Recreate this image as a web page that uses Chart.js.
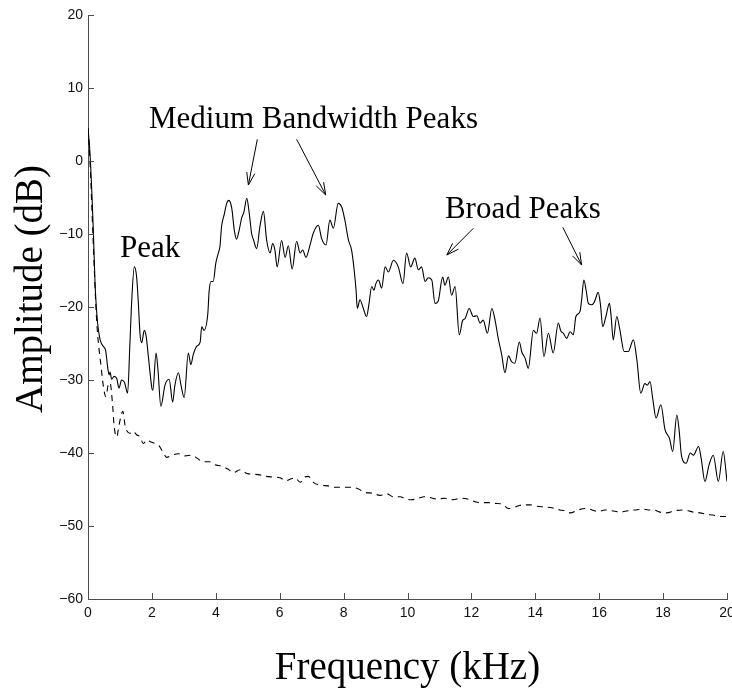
<!DOCTYPE html>
<html>
<head>
<meta charset="utf-8">
<script src="https://cdn.jsdelivr.net/npm/chart.js@4/dist/chart.umd.min.js"></script>
<style>
  html, body { margin: 0; padding: 0; background: #fff; }
  #wrap { width: 732px; height: 692px; }
</style>
</head>
<body>
<div id="wrap"><canvas id="spec" width="732" height="692"></canvas></div>
<script>
// Spectrum (solid) in kHz / dB
const freqSolid = [0.00,0.06,0.13,0.17,0.22,0.30,0.38,0.48,0.55,0.62,0.66,0.69,0.74,0.82,0.90,0.97,1.05,1.14,1.24,1.31,
  1.37,1.45,1.52,1.57,1.63,1.68,1.76,1.82,1.89,2.00,2.03,2.13,2.19,2.28,2.41,2.54,2.65,2.72,2.83,2.91,
  3.01,3.14,3.22,3.29,3.40,3.51,3.56,3.63,3.75,3.79,3.85,3.92,4.00,4.08,4.13,4.18,4.27,4.34,4.41,4.50,
  4.58,4.65,4.73,4.81,4.88,4.97,5.04,5.12,5.18,5.28,5.38,5.49,5.59,5.70,5.78,5.85,5.92,6.06,6.17,6.27,
  6.39,6.53,6.64,6.72,6.82,6.95,7.05,7.21,7.31,7.45,7.57,7.68,7.83,7.94,8.04,8.15,8.25,8.33,8.39,8.43,
  8.51,8.61,8.72,8.79,8.88,8.95,9.01,9.09,9.19,9.30,9.40,9.56,9.71,9.86,9.97,10.10,10.23,10.34,10.44,10.55,
  10.65,10.76,10.86,10.96,11.10,11.17,11.28,11.38,11.49,11.62,11.73,11.80,11.93,12.06,12.17,12.27,12.37,12.50,12.64,12.74,
  12.84,12.95,13.05,13.16,13.26,13.36,13.50,13.58,13.68,13.78,13.94,14.04,14.15,14.27,14.41,14.56,14.72,14.80,14.88,14.98,
  15.09,15.19,15.27,15.40,15.45,15.52,15.59,15.66,15.77,15.85,15.97,16.04,16.11,16.21,16.32,16.37,16.44,16.55,16.65,16.78,
  16.91,17.07,17.18,17.30,17.43,17.51,17.59,17.68,17.78,17.93,18.06,18.20,18.30,18.43,18.50,18.58,18.72,18.85,18.95,19.11,
  19.19,19.31,19.44,19.57,19.73,19.88,20.00];
const ampSolid = [4.5,1.2,-5.3,-9.9,-16.7,-22.2,-24.5,-25.4,-25.9,-28.4,-29.3,-28.9,-29.9,-29.5,-29.8,-31.1,-30.0,-30.3,-31.8,-25.2,
  -19.0,-14.5,-15.8,-19.0,-23.8,-24.9,-23.2,-24.0,-26.8,-31.1,-31.4,-26.3,-28.6,-33.6,-30.7,-29.9,-33.0,-30.7,-29.0,-30.7,
  -32.4,-26.3,-27.9,-26.6,-25.4,-24.8,-22.7,-23.2,-20.9,-17.9,-16.5,-16.5,-14.0,-12.6,-11.7,-9.0,-7.2,-5.8,-5.4,-6.5,
  -9.5,-10.7,-9.5,-7.8,-7.0,-5.1,-6.9,-9.9,-10.8,-12.0,-9.0,-6.9,-10.8,-12.6,-11.3,-12.2,-14.5,-10.9,-13.2,-11.6,
  -14.8,-11.0,-12.6,-12.2,-13.2,-11.5,-9.9,-8.8,-10.6,-11.5,-8.1,-9.2,-5.8,-6.3,-8.1,-10.8,-12.2,-14.9,-17.7,-20.2,
  -19.0,-20.1,-21.3,-19.7,-17.2,-17.7,-16.8,-16.3,-17.4,-14.5,-15.2,-13.6,-14.5,-16.8,-12.6,-14.5,-13.3,-14.9,-14.5,-16.5,
  -16.0,-16.3,-19.5,-19.2,-15.9,-17.0,-15.9,-18.4,-17.2,-23.8,-21.8,-21.6,-20.2,-21.3,-21.2,-22.2,-21.8,-23.6,-20.2,-21.8,
  -24.3,-26.6,-29.0,-26.7,-27.5,-27.7,-24.8,-26.2,-27.0,-28.4,-23.2,-23.6,-21.5,-26.8,-23.6,-26.3,-22.2,-23.3,-23.6,-24.3,
  -23.4,-23.8,-21.3,-20.6,-19.0,-16.3,-17.7,-19.5,-19.7,-19.3,-18.0,-19.7,-22.7,-21.3,-19.5,-21.1,-24.5,-21.3,-23.2,-26.1,
  -26.1,-24.5,-27.3,-31.8,-30.5,-30.7,-30.2,-32.7,-35.2,-33.4,-36.8,-38.0,-39.8,-34.8,-36.8,-40.5,-41.4,-40.0,-40.3,-39.1,
  -40.7,-43.9,-41.6,-40.3,-43.9,-39.8,-43.9];

// Noise floor (dashed)
const freqDashed = [0.00,0.06,0.16,0.27,0.41,0.50,0.56,0.63,0.69,0.77,0.82,0.90,0.97,1.09,1.16,1.22,1.31,1.41,1.52,1.63,
  1.73,1.85,1.97,2.10,2.22,2.35,2.46,2.63,2.83,3.04,3.25,3.41,3.61,3.79,3.97,4.19,4.38,4.55,4.76,4.97,
  5.16,5.38,5.57,5.80,6.01,6.20,6.32,6.48,6.64,6.79,6.90,7.04,7.26,7.51,7.73,8.00,8.25,8.45,8.67,8.89,
  9.14,9.36,9.56,9.77,9.95,10.13,10.33,10.52,10.70,10.92,11.17,11.43,11.67,11.96,12.14,12.37,12.58,12.74,12.96,13.16,
  13.36,13.62,13.83,14.05,14.30,14.52,14.77,14.93,15.09,15.34,15.61,15.77,15.97,16.18,16.39,16.65,16.91,17.12,17.38,17.53,
  17.69,17.90,18.11,18.37,18.63,18.78,18.95,19.15,19.36,19.56,19.78,19.97];
const ampDashed = [4.5,0.1,-10.8,-21.8,-28.2,-31.4,-32.3,-30.7,-30.4,-33.4,-36.4,-37.8,-36.2,-34.3,-36.2,-37.0,-37.3,-37.0,-37.5,-37.8,
  -38.7,-38.2,-38.5,-38.7,-39.0,-39.9,-40.6,-40.3,-40.1,-40.4,-40.3,-40.7,-41.2,-41.2,-41.6,-41.8,-42.2,-42.7,-42.3,-42.8,
  -42.9,-43.0,-43.2,-43.3,-43.4,-43.8,-43.6,-43.4,-44.0,-43.3,-43.2,-44.0,-44.4,-44.5,-44.7,-44.7,-44.7,-44.9,-45.4,-45.5,
  -45.8,-45.6,-46.0,-46.0,-46.3,-46.4,-46.2,-46.0,-46.1,-46.3,-46.2,-46.4,-46.2,-46.4,-46.7,-46.8,-46.8,-46.9,-47.0,-47.6,
  -47.4,-47.1,-47.1,-47.3,-47.4,-47.5,-47.8,-47.9,-48.2,-47.8,-47.6,-47.8,-48.0,-47.8,-47.9,-48.1,-47.9,-47.8,-47.7,-47.8,
  -47.8,-48.1,-48.2,-47.9,-47.8,-47.9,-48.1,-48.2,-48.4,-48.5,-48.7,-48.7];

// Text labels and arrows, in kHz / dB
const noteTexts = ['Medium Bandwidth Peaks', 'Peak', 'Broad Peaks'];
const noteAt = [[1.91, 4.52], [1.00, -13.1], [11.17, -7.8]];
const arrows = [
  [5.30, 2.97, 5.02, -3.29],
  [6.53, 2.97, 7.44, -4.66],
  [12.06, -9.22, 11.23, -12.88],
  [14.86, -9.08, 15.45, -14.25]
];

const axisColor = '#4d4d4d';
const serif = '"Liberation Serif", "Times New Roman", serif';
const toPoints = (xs, ys) => xs.map((x, i) => ({ x: x, y: ys[i] }));
const minus = v => String(v).replace('-', '\u2212');

// inward tick marks, y title, annotations
const extras = {
  id: 'extras',
  afterDraw(chart) {
    const { ctx, chartArea: area, scales: { x, y } } = chart;
    ctx.save();
    ctx.strokeStyle = axisColor;
    ctx.lineWidth = 1;
    ctx.beginPath();
    x.ticks.forEach(t => {
      const px = Math.round(x.getPixelForValue(t.value)) + 0.5;
      ctx.moveTo(px, area.bottom);
      ctx.lineTo(px, area.bottom - 6);
    });
    y.ticks.forEach(t => {
      const py = Math.round(y.getPixelForValue(t.value)) + 0.5;
      ctx.moveTo(area.left, py);
      ctx.lineTo(area.left + 6, py);
    });
    ctx.stroke();

    // y axis title sits a little above the middle
    ctx.fillStyle = '#000';
    ctx.font = '39px ' + serif;
    ctx.textAlign = 'center';
    ctx.textBaseline = 'middle';
    ctx.save();
    ctx.translate(32, (area.top + area.bottom) / 2 - 18);
    ctx.rotate(-Math.PI / 2);
    ctx.fillText('Amplitude (dB)', 0, 0);
    ctx.restore();

    ctx.font = '31px ' + serif;
    ctx.textAlign = 'left';
    ctx.textBaseline = 'alphabetic';
    noteTexts.forEach((txt, i) => {
      ctx.fillText(txt, x.getPixelForValue(noteAt[i][0]), y.getPixelForValue(noteAt[i][1]));
    });

    ctx.strokeStyle = '#000';
    arrows.forEach(a => {
      const x0 = x.getPixelForValue(a[0]), y0 = y.getPixelForValue(a[1]);
      const x1 = x.getPixelForValue(a[2]), y1 = y.getPixelForValue(a[3]);
      const ang = Math.atan2(y1 - y0, x1 - x0);
      const len = 13, spread = 0.32;
      ctx.beginPath();
      ctx.moveTo(x0, y0);
      ctx.lineTo(x1, y1);
      ctx.moveTo(x1 - len * Math.cos(ang - spread), y1 - len * Math.sin(ang - spread));
      ctx.lineTo(x1, y1);
      ctx.lineTo(x1 - len * Math.cos(ang + spread), y1 - len * Math.sin(ang + spread));
      ctx.stroke();
    });
    ctx.restore();
  }
};

new Chart(document.getElementById('spec'), {
  type: 'line',
  data: {
    datasets: [{
      data: toPoints(freqSolid, ampSolid),
      borderColor: '#000',
      borderWidth: 1.1,
      pointRadius: 0,
      cubicInterpolationMode: 'monotone'
    }, {
      data: toPoints(freqDashed, ampDashed),
      borderColor: '#000',
      borderWidth: 1.1,
      borderDash: [6, 5],
      pointRadius: 0,
      cubicInterpolationMode: 'monotone'
    }]
  },
  options: {
    responsive: false,
    animation: false,
    events: [],
    layout: { padding: { top: 15, right: 5, left: 0, bottom: 0 } },
    plugins: { legend: { display: false }, tooltip: { enabled: false } },
    scales: {
      x: {
        type: 'linear',
        min: 0, max: 20,
        grid: { display: true, drawOnChartArea: false, drawTicks: false },
        border: { display: true, color: axisColor, width: 1 },
        ticks: {
          stepSize: 2, padding: 6, color: '#111',
          font: { family: '"Liberation Sans", Arial, sans-serif', size: 14 },
          maxRotation: 0, autoSkip: false
        },
        title: {
          display: true, text: 'Frequency (kHz)', color: '#000',
          font: { family: serif, size: 39 },
          padding: { top: 0, bottom: 0 }
        },
        afterFit(scale) {
          scale.height = 93;
          scale.paddingLeft = 0;
          scale.paddingRight = 0;
        }
      },
      y: {
        min: -60, max: 20,
        grid: { display: true, drawOnChartArea: false, drawTicks: false },
        border: { display: true, color: axisColor, width: 1 },
        ticks: {
          stepSize: 10, padding: 5, color: '#111',
          font: { family: '"Liberation Sans", Arial, sans-serif', size: 14 },
          callback: v => minus(v)
        },
        afterFit(scale) {
          scale.width = 88;
          scale.paddingTop = 0;
          scale.paddingBottom = 0;
        }
      }
    }
  },
  plugins: [extras]
});
</script>
</body>
</html>
